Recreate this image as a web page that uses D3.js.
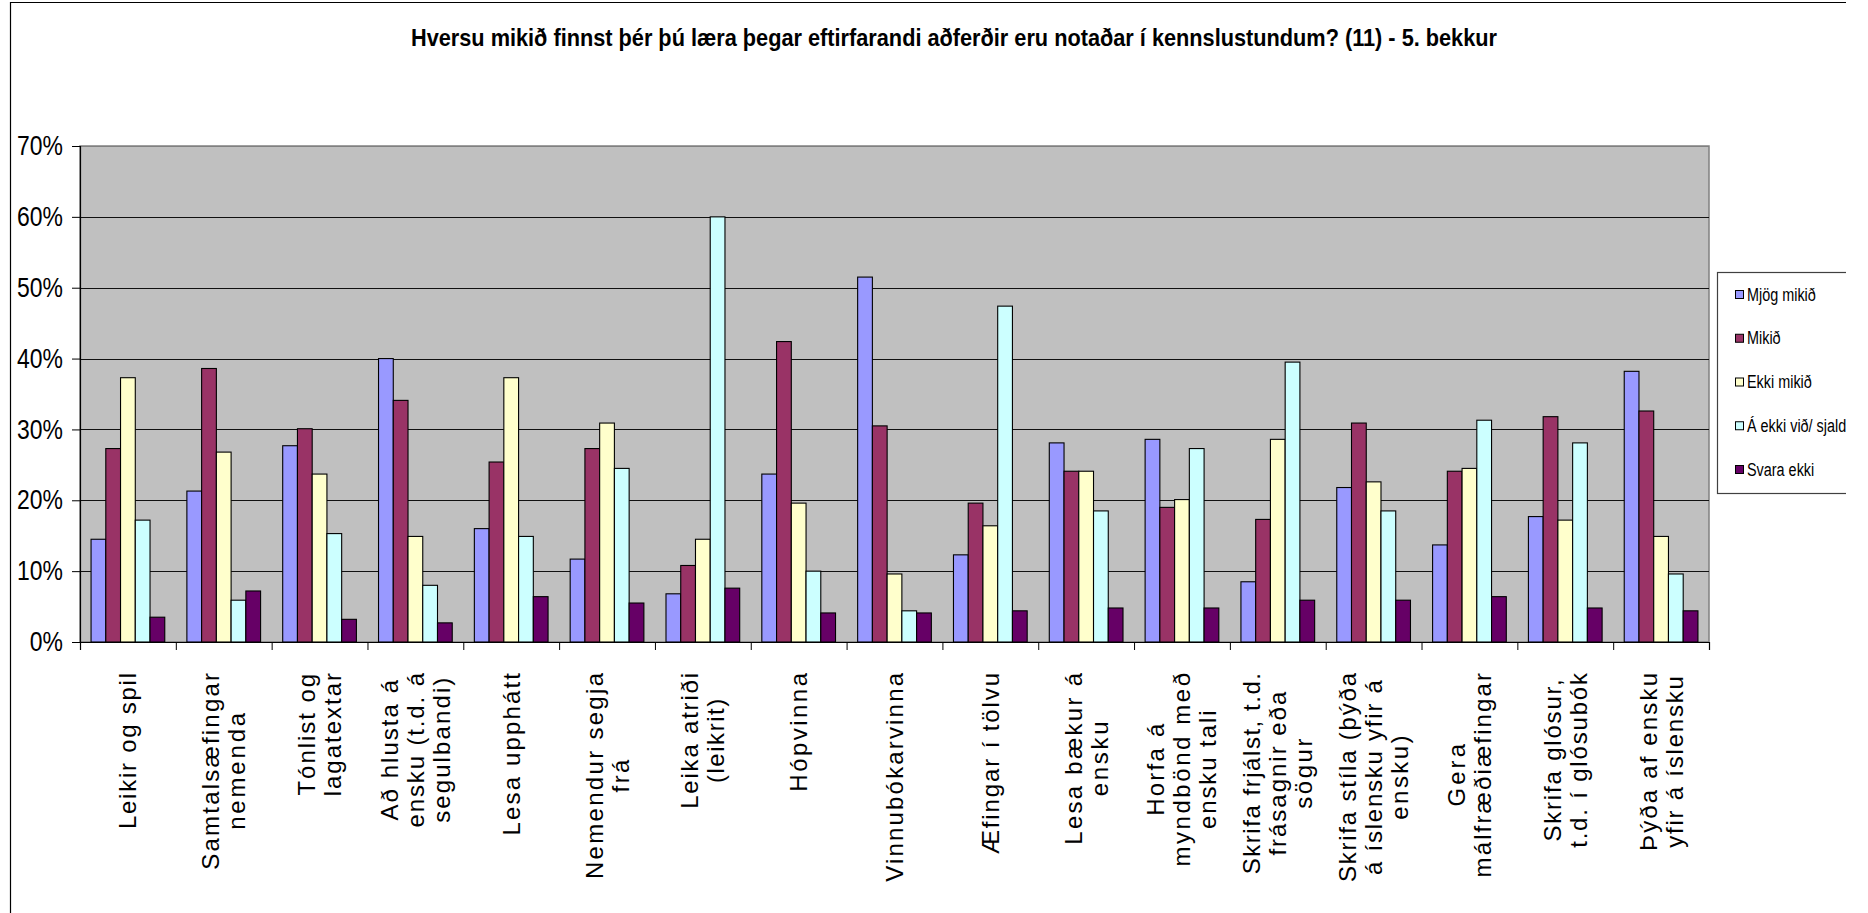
<!DOCTYPE html>
<html>
<head>
<meta charset="utf-8">
<script src="https://cdn.jsdelivr.net/npm/d3@7"></script>
<style>
  html, body { margin: 0; padding: 0; background: #ffffff; }
  svg { display: block; }
  .narrow { font-family: "Liberation Sans Narrow", "Arial Narrow", "Liberation Sans", Arial, sans-serif; }
  .xlab { font-family: "Liberation Sans", Arial, sans-serif; font-size: 24px; fill: #000; }
</style>
</head>
<body>
<div id="chart"></div>
<script>
// 1. Data (percent)
const categories = [
  "Leikir og spil",
  "Samtalsæfingar\nnemenda",
  "Tónlist og\nlagatextar",
  "Að hlusta á\nensku (t.d. á\nsegulbandi)",
  "Lesa upphátt",
  "Nemendur segja\nfrá",
  "Leika atriði\n(leikrit)",
  "Hópvinna",
  "Vinnubókarvinna",
  "Æfingar í tölvu",
  "Lesa bækur á\nensku",
  "Horfa á\nmyndbönd með\nensku tali",
  "Skrifa frjálst, t.d.\nfrásagnir eða\nsögur",
  "Skrifa stíla (þýða\ná íslensku yfir á\nensku)",
  "Gera\nmálfræðiæfingar",
  "Skrifa glósur,\nt.d. í glósubók",
  "Þýða af ensku\nyfir á íslensku"
];

const seriesNames = ["Mjög mikið", "Mikið", "Ekki mikið", "Á ekki við/ sjaldan", "Svara ekki"];
const seriesColors = ["#9999FF", "#993366", "#FFFFCC", "#CCFFFF", "#660066"];

const mjogMikid  = [14.5, 21.3, 27.7, 40.0, 16.0, 11.7,  6.8, 23.7, 51.5, 12.3, 28.1, 28.6,  8.5, 21.8, 13.7, 17.7, 38.2];
const mikid      = [27.3, 38.6, 30.1, 34.1, 25.4, 27.3, 10.8, 42.4, 30.5, 19.6, 24.1, 19.0, 17.3, 30.9, 24.1, 31.8, 32.6];
const ekkiMikid  = [37.3, 26.8, 23.7, 14.9, 37.3, 30.9, 14.5, 19.6,  9.6, 16.4, 24.1, 20.1, 28.6, 22.6, 24.5, 17.2, 14.9];
const aEkkiVid   = [17.2,  5.9, 15.3,  8.0, 14.9, 24.5, 60.0, 10.0,  4.4, 47.4, 18.5, 27.3, 39.5, 18.5, 31.3, 28.1,  9.6];
const svaraEkki  = [ 3.5,  7.2,  3.2,  2.7,  6.4,  5.5,  7.6,  4.1,  4.1,  4.4,  4.8,  4.8,  5.9,  5.9,  6.4,  4.8,  4.4];

const yTicks = [0, 10, 20, 30, 40, 50, 60, 70];
const titleText = "Hversu mikið finnst þér þú læra þegar eftirfarandi aðferðir eru notaðar í kennslustundum? (11) - 5. bekkur";

const seriesValues = [mjogMikid, mikid, ekkiMikid, aEkkiVid, svaraEkki];

// squeeze a text horizontally so it looks like the narrow face used in the original
function squeeze(sel, k) {
  sel.each(function () {
    const len = this.getComputedTextLength();
    d3.select(this)
      .attr("textLength", len * k)
      .attr("lengthAdjust", "spacingAndGlyphs");
  });
}

// 2. Layout
const W = 1868, H = 913;
const plot = { left: 80, right: 1709, top: 146, bottom: 642 };

const svg = d3.select("#chart").append("svg")
  .attr("width", W)
  .attr("height", H);

// outer chart frame (top + left visible)
svg.append("path")
  .attr("d", `M10.5,${H} L10.5,2.5 L1846,2.5`)
  .attr("fill", "none")
  .attr("stroke", "#000")
  .attr("stroke-width", 1.2);

// 3. Scales
const x0 = d3.scaleBand()
  .domain(d3.range(categories.length))
  .range([plot.left, plot.right])
  .padding(0);

const bw = x0.bandwidth();
const x1 = d3.scaleBand()
  .domain(seriesNames)
  .range([bw * 0.75 / 6.5, bw * (1 - 0.75 / 6.5)])
  .padding(0);

const y = d3.scaleLinear()
  .domain([0, 70])
  .range([plot.bottom, plot.top]);

const xEdges = d3.scaleLinear()
  .domain([0, categories.length])
  .range([plot.left, plot.right]);

// 4. Plot area
svg.append("rect")
  .attr("x", plot.left)
  .attr("y", plot.top)
  .attr("width", plot.right - plot.left)
  .attr("height", plot.bottom - plot.top)
  .attr("fill", "#C0C0C0")
  .attr("stroke", "#808080")
  .attr("stroke-width", 1.5);

// gridlines
svg.append("g")
  .selectAll("line")
  .data(yTicks.filter(d => d > 0))
  .join("line")
  .attr("x1", plot.left)
  .attr("x2", plot.right)
  .attr("y1", d => Math.round(y(d)) + 0.5)
  .attr("y2", d => Math.round(y(d)) + 0.5)
  .attr("stroke", d => d === 70 ? "#808080" : "#111")
  .attr("stroke-width", 1.2);

// 5. Bars
const long = [];
categories.forEach((c, i) => {
  seriesNames.forEach((s, j) => long.push({ cat: i, series: s, color: seriesColors[j], value: seriesValues[j][i] }));
});

svg.append("g")
  .selectAll("rect")
  .data(long)
  .join("rect")
  .attr("x", d => x0(d.cat) + x1(d.series))
  .attr("y", d => y(d.value))
  .attr("width", x1.bandwidth())
  .attr("height", d => y(0) - y(d.value))
  .attr("fill", d => d.color)
  .attr("stroke", "#000")
  .attr("stroke-width", 1.1);

// 6. Axes
const yAxis = d3.axisLeft(y)
  .tickValues(yTicks)
  .tickSize(8)
  .tickPadding(9)
  .tickFormat(d => d + "%");

const yg = svg.append("g")
  .attr("transform", `translate(${plot.left},0)`)
  .call(yAxis);
yg.select(".domain").attr("stroke", "#000").attr("stroke-width", 1.2);
yg.selectAll(".tick line").attr("stroke", "#000");
yg.selectAll(".tick text")
  .attr("class", "narrow")
  .style("font-size", "27px")
  .attr("fill", "#000")
  .call(squeeze, 0.85);

const xAxis = d3.axisBottom(xEdges)
  .tickValues(d3.range(categories.length + 1))
  .tickSize(8)
  .tickFormat("");

const xg = svg.append("g")
  .attr("transform", `translate(0,${plot.bottom})`)
  .call(xAxis);
xg.select(".domain").attr("stroke", "#000").attr("stroke-width", 1.2);
xg.selectAll(".tick line").attr("stroke", "#000");

// category labels, rotated, lines centred inside each block
const labelTop = 673;
const lineH = 26;
const stretch = 1.17;

categories.forEach((c, i) => {
  const lines = c.split("\n");
  const g = svg.append("g")
    .attr("transform", `translate(${x0(i) + bw / 2},${labelTop}) rotate(-90)`);
  const texts = g.selectAll("text")
    .data(lines)
    .join("text")
    .attr("class", "xlab")
    .attr("text-anchor", "middle")
    .attr("dominant-baseline", "central")
    .attr("y", (d, k) => (k - (lines.length - 1) / 2) * lineH)
    .text(d => d);
  const lens = [];
  texts.each(function () { lens.push(this.getComputedTextLength() * stretch); });
  const maxLen = d3.max(lens);
  texts
    .attr("x", -maxLen / 2)
    .attr("textLength", (d, k) => lens[k])
    .attr("lengthAdjust", "spacing");
});

// 7. Title
svg.append("text")
  .attr("class", "narrow")
  .attr("x", 954)
  .attr("y", 46)
  .attr("text-anchor", "middle")
  .style("font-size", "24px")
  .style("font-weight", "bold")
  .attr("textLength", 1086)
  .attr("lengthAdjust", "spacingAndGlyphs")
  .text(titleText);

// 8. Legend
svg.append("clipPath")
  .attr("id", "legclip")
  .append("rect")
  .attr("x", 1700).attr("y", 250).attr("width", 146).attr("height", 260);

const legend = svg.append("g").attr("clip-path", "url(#legclip)");

legend.append("rect")
  .attr("x", 1717.5)
  .attr("y", 272.5)
  .attr("width", 200)
  .attr("height", 221)
  .attr("fill", "#fff")
  .attr("stroke", "#404040")
  .attr("stroke-width", 1.2);

const legY = d3.scalePoint()
  .domain(seriesNames)
  .range([294.5, 469.5]);

const items = legend.selectAll(".leg")
  .data(seriesNames)
  .join("g")
  .attr("class", "leg")
  .attr("transform", d => `translate(1735,${legY(d)})`);

items.append("rect")
  .attr("x", 0.5)
  .attr("y", -4)
  .attr("width", 8)
  .attr("height", 8)
  .attr("fill", (d, j) => seriesColors[j])
  .attr("stroke", "#000")
  .attr("stroke-width", 1);

items.append("text")
  .attr("class", "narrow")
  .attr("x", 12)
  .attr("y", 0)
  .attr("dominant-baseline", "central")
  .style("font-size", "18px")
  .attr("fill", "#000")
  .text(d => d)
  .call(squeeze, 0.8);
</script>
</body>
</html>
